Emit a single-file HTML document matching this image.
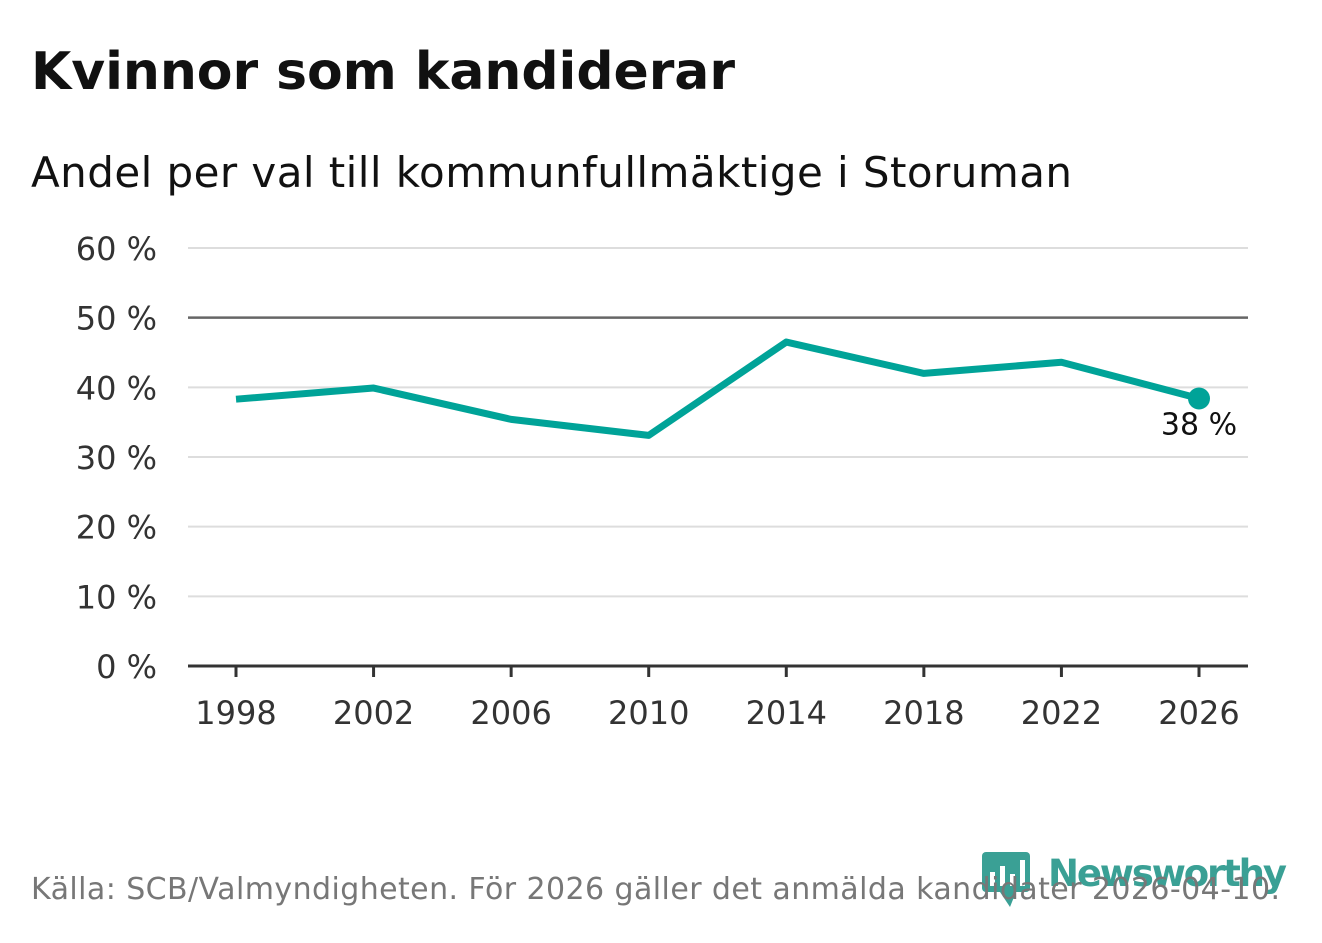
<!DOCTYPE html>
<html><head><meta charset="utf-8"><style>
body{margin:0;background:#fff;width:1322px;height:939px;overflow:hidden;font-family:"DejaVu Sans","Liberation Sans",sans-serif}
</style></head><body>
<svg width="1322" height="939" xmlns="http://www.w3.org/2000/svg">
<text x="31" y="89" font-size="52" font-weight="bold" fill="#111" textLength="704">Kvinnor som kandiderar</text>
<text x="31" y="187" font-size="42" fill="#111" textLength="1041">Andel per val till kommunfullmäktige i Storuman</text>
<g id="grid"></g><g id="xaxis"></g><g id="series"></g>
<g>
<rect x="982" y="852" width="48" height="40" rx="4" fill="#3aa095"/>
<path d="M1000 892 L1010 907 L1016 892 Z" fill="#3aa095"/>
<rect x="990" y="872" width="5" height="14" fill="#fff"/><rect x="1000" y="866" width="5" height="20" fill="#fff"/><rect x="1010" y="874" width="5" height="12" fill="#fff"/><rect x="1020" y="860" width="5" height="26" fill="#fff"/>
<text x="1048" y="886" font-size="37" font-weight="bold" fill="#3aa095" textLength="239">Newsworthy</text>
</g>
<text x="31" y="899" font-size="30" fill="#777" textLength="1249">Källa: SCB/Valmyndigheten. För 2026 gäller det anmälda kandidater 2026-04-10.</text>
</svg>
<script>
const years=[1998,2002,2006,2010,2014,2018,2022,2026];
const values=[38.3,39.9,35.4,33.1,46.5,42.0,43.6,38.4];
const yTicks=[0,10,20,30,40,50,60];
const ns="http://www.w3.org/2000/svg";
const x=v=>236+(v-1998)*(1199-236)/28;
const y=v=>666-v*(666-248)/60;
function mk(t,a,p){const e=document.createElementNS(ns,t);for(const k in a)e.setAttribute(k,a[k]);p.appendChild(e);return e;}
const g=document.getElementById('grid'),xa=document.getElementById('xaxis'),s=document.getElementById('series');
yTicks.forEach(t=>{
 const l=mk('line',{x1:188,x2:1248,y1:y(t),y2:y(t),stroke:t==0?'#333':t==50?'#666':'#ddd','stroke-width':t==0?3:t==50?2.5:2},g);
 
 
 const tx=mk('text',{x:157,y:y(t)+12,'text-anchor':'end','font-size':32,fill:'#333'},g);tx.textContent=t+' %';
 
 
});
years.forEach(yr=>{
 mk('line',{x1:x(yr),x2:x(yr),y1:666,y2:677,stroke:'#333','stroke-width':3},xa);
 const tx=mk('text',{x:x(yr),y:724,'text-anchor':'middle','font-size':32,fill:'#333'},xa);tx.textContent=yr;
 
 
});
const p=mk('polyline',{points:years.map((yr,i)=>x(yr)+','+y(values[i])).join(' '),fill:'none',stroke:'#00a398','stroke-width':7,'stroke-linejoin':'round'},s);


const li=values.length-1;
const c=mk('circle',{cx:x(years[li]),cy:y(values[li]),r:11,fill:'#00a398'},s);


const lb=mk('text',{x:x(years[li]),y:y(values[li])+36,'text-anchor':'middle','font-size':30,fill:'#111'},s);lb.textContent=Math.round(values[li])+' %';


</script>
</body></html>
